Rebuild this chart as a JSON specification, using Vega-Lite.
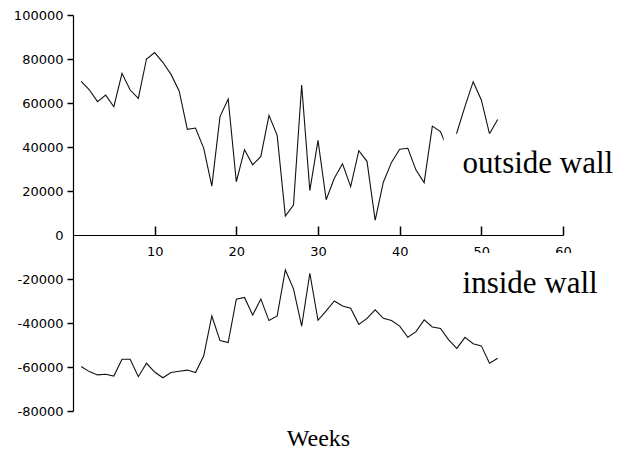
{
  "$schema": "https://vega.github.io/schema/vega-lite/v6.json",
  "autosize": "none",
  "width": 490,
  "height": 396,
  "padding": {"left": 73, "top": 15, "right": 70, "bottom": 39},
  "background": "white",
  "config": {"view": {"stroke": null}},
  "datasets": {
    "walls": [
      {"week": 1, "value": 69800, "series": "outside wall"},
      {"week": 2, "value": 66000, "series": "outside wall"},
      {"week": 3, "value": 60600, "series": "outside wall"},
      {"week": 4, "value": 63600, "series": "outside wall"},
      {"week": 5, "value": 58300, "series": "outside wall"},
      {"week": 6, "value": 73500, "series": "outside wall"},
      {"week": 7, "value": 65900, "series": "outside wall"},
      {"week": 8, "value": 62100, "series": "outside wall"},
      {"week": 9, "value": 80000, "series": "outside wall"},
      {"week": 10, "value": 82900, "series": "outside wall"},
      {"week": 11, "value": 78500, "series": "outside wall"},
      {"week": 12, "value": 73000, "series": "outside wall"},
      {"week": 13, "value": 65500, "series": "outside wall"},
      {"week": 14, "value": 48000, "series": "outside wall"},
      {"week": 15, "value": 48600, "series": "outside wall"},
      {"week": 16, "value": 39500, "series": "outside wall"},
      {"week": 17, "value": 22200, "series": "outside wall"},
      {"week": 18, "value": 53800, "series": "outside wall"},
      {"week": 19, "value": 61800, "series": "outside wall"},
      {"week": 20, "value": 24200, "series": "outside wall"},
      {"week": 21, "value": 38800, "series": "outside wall"},
      {"week": 22, "value": 31900, "series": "outside wall"},
      {"week": 23, "value": 35700, "series": "outside wall"},
      {"week": 24, "value": 54400, "series": "outside wall"},
      {"week": 25, "value": 45300, "series": "outside wall"},
      {"week": 26, "value": 8600, "series": "outside wall"},
      {"week": 27, "value": 13600, "series": "outside wall"},
      {"week": 28, "value": 68200, "series": "outside wall"},
      {"week": 29, "value": 20200, "series": "outside wall"},
      {"week": 30, "value": 43000, "series": "outside wall"},
      {"week": 31, "value": 16000, "series": "outside wall"},
      {"week": 32, "value": 25800, "series": "outside wall"},
      {"week": 33, "value": 32400, "series": "outside wall"},
      {"week": 34, "value": 22000, "series": "outside wall"},
      {"week": 35, "value": 38300, "series": "outside wall"},
      {"week": 36, "value": 33500, "series": "outside wall"},
      {"week": 37, "value": 6700, "series": "outside wall"},
      {"week": 38, "value": 24000, "series": "outside wall"},
      {"week": 39, "value": 33000, "series": "outside wall"},
      {"week": 40, "value": 39000, "series": "outside wall"},
      {"week": 41, "value": 39400, "series": "outside wall"},
      {"week": 42, "value": 29500, "series": "outside wall"},
      {"week": 43, "value": 23800, "series": "outside wall"},
      {"week": 44, "value": 49500, "series": "outside wall"},
      {"week": 45, "value": 47000, "series": "outside wall"},
      {"week": 46, "value": 38000, "series": "outside wall"},
      {"week": 47, "value": 46500, "series": "outside wall"},
      {"week": 48, "value": 58500, "series": "outside wall"},
      {"week": 49, "value": 69700, "series": "outside wall"},
      {"week": 50, "value": 61400, "series": "outside wall"},
      {"week": 51, "value": 46000, "series": "outside wall"},
      {"week": 52, "value": 52500, "series": "outside wall"},
      {"week": 1, "value": -59800, "series": "inside wall"},
      {"week": 2, "value": -62100, "series": "inside wall"},
      {"week": 3, "value": -63600, "series": "inside wall"},
      {"week": 4, "value": -63300, "series": "inside wall"},
      {"week": 5, "value": -64100, "series": "inside wall"},
      {"week": 6, "value": -56500, "series": "inside wall"},
      {"week": 7, "value": -56500, "series": "inside wall"},
      {"week": 8, "value": -64400, "series": "inside wall"},
      {"week": 9, "value": -58300, "series": "inside wall"},
      {"week": 10, "value": -62300, "series": "inside wall"},
      {"week": 11, "value": -64900, "series": "inside wall"},
      {"week": 12, "value": -62500, "series": "inside wall"},
      {"week": 13, "value": -61900, "series": "inside wall"},
      {"week": 14, "value": -61400, "series": "inside wall"},
      {"week": 15, "value": -62500, "series": "inside wall"},
      {"week": 16, "value": -55000, "series": "inside wall"},
      {"week": 17, "value": -36800, "series": "inside wall"},
      {"week": 18, "value": -48000, "series": "inside wall"},
      {"week": 19, "value": -48900, "series": "inside wall"},
      {"week": 20, "value": -29200, "series": "inside wall"},
      {"week": 21, "value": -28400, "series": "inside wall"},
      {"week": 22, "value": -36400, "series": "inside wall"},
      {"week": 23, "value": -29100, "series": "inside wall"},
      {"week": 24, "value": -38900, "series": "inside wall"},
      {"week": 25, "value": -36800, "series": "inside wall"},
      {"week": 26, "value": -15900, "series": "inside wall"},
      {"week": 27, "value": -24500, "series": "inside wall"},
      {"week": 28, "value": -41400, "series": "inside wall"},
      {"week": 29, "value": -17400, "series": "inside wall"},
      {"week": 30, "value": -38800, "series": "inside wall"},
      {"week": 31, "value": -34500, "series": "inside wall"},
      {"week": 32, "value": -30000, "series": "inside wall"},
      {"week": 33, "value": -32300, "series": "inside wall"},
      {"week": 34, "value": -33300, "series": "inside wall"},
      {"week": 35, "value": -40600, "series": "inside wall"},
      {"week": 36, "value": -37900, "series": "inside wall"},
      {"week": 37, "value": -34000, "series": "inside wall"},
      {"week": 38, "value": -37900, "series": "inside wall"},
      {"week": 39, "value": -38900, "series": "inside wall"},
      {"week": 40, "value": -41400, "series": "inside wall"},
      {"week": 41, "value": -46500, "series": "inside wall"},
      {"week": 42, "value": -43900, "series": "inside wall"},
      {"week": 43, "value": -38600, "series": "inside wall"},
      {"week": 44, "value": -41800, "series": "inside wall"},
      {"week": 45, "value": -42500, "series": "inside wall"},
      {"week": 46, "value": -47700, "series": "inside wall"},
      {"week": 47, "value": -51500, "series": "inside wall"},
      {"week": 48, "value": -46500, "series": "inside wall"},
      {"week": 49, "value": -49400, "series": "inside wall"},
      {"week": 50, "value": -50400, "series": "inside wall"},
      {"week": 51, "value": -58300, "series": "inside wall"},
      {"week": 52, "value": -56000, "series": "inside wall"}
    ]
  },
  "layer": [
    {
      "data": {"name": "walls"},
      "mark": {"type": "line", "color": "#111111", "strokeWidth": 1.1},
      "encoding": {
        "x": {
          "field": "week", "type": "quantitative",
          "scale": {"domain": [0, 60], "nice": false, "zero": false},
          "axis": {
            "orient": "bottom", "offset": -176,
            "values": [10, 20, 30, 40, 50, 60],
            "grid": false, "ticks": true, "tickSize": -9, "tickColor": "black", "tickWidth": 1.5,
            "labelPadding": 19,
            "labelFont": "DejaVu Sans", "labelFontSize": 13, "labelColor": "black",
            "labelFlush": false, "labelOverlap": false,
            "domainColor": "black", "domainWidth": 1.2,
            "title": "Weeks", "titleFont": "Liberation Serif", "titleFontSize": 24,
            "titleFontWeight": "normal", "titleColor": "black",
            "titleBaseline": "alphabetic", "titleY": 210
          }
        },
        "y": {
          "field": "value", "type": "quantitative",
          "scale": {"domain": [-80000, 100000], "nice": false, "zero": false},
          "axis": {
            "values": [-80000, -60000, -40000, -20000, 0, 20000, 40000, 60000, 80000, 100000],
            "labelExpr": "'' + datum.value",
            "grid": false, "ticks": true, "tickSize": 6, "tickWidth": 1.5,
            "tickColor": {"condition": {"test": "datum.value === 0", "value": "transparent"}, "value": "black"},
            "labelPadding": 4,
            "labelFont": "DejaVu Sans", "labelFontSize": 13, "labelColor": "black",
            "labelFlush": false, "labelOverlap": false,
            "domainColor": "black", "domainWidth": 1.2,
            "title": null
          }
        },
        "detail": {"field": "series", "type": "nominal"}
      }
    },
    {
      "data": {"values": [{"label": "outside wall"}]},
      "mark": {"type": "rect", "color": "white"},
      "encoding": {
        "x": {"datum": 45.4, "type": "quantitative"},
        "x2": {"datum": 67},
        "y": {"datum": 46000, "type": "quantitative"},
        "y2": {"datum": 14000}
      }
    },
    {
      "data": {"values": [{"label": "inside wall"}]},
      "mark": {"type": "rect", "color": "white"},
      "encoding": {
        "x": {"datum": 45.4, "type": "quantitative"},
        "x2": {"datum": 67},
        "y": {"datum": -8200, "type": "quantitative"},
        "y2": {"datum": -40000}
      }
    },
    {
      "data": {"values": [{"label": "outside wall"}]},
      "mark": {"type": "text", "align": "left", "baseline": "alphabetic", "font": "Liberation Serif", "fontSize": 31, "color": "black"},
      "encoding": {
        "x": {"datum": 47.7, "type": "quantitative"},
        "y": {"datum": 28200, "type": "quantitative"},
        "text": {"field": "label"}
      }
    },
    {
      "data": {"values": [{"label": "inside wall"}]},
      "mark": {"type": "text", "align": "left", "baseline": "alphabetic", "font": "Liberation Serif", "fontSize": 31, "color": "black"},
      "encoding": {
        "x": {"datum": 47.7, "type": "quantitative"},
        "y": {"datum": -26500, "type": "quantitative"},
        "text": {"field": "label"}
      }
    }
  ]
}
